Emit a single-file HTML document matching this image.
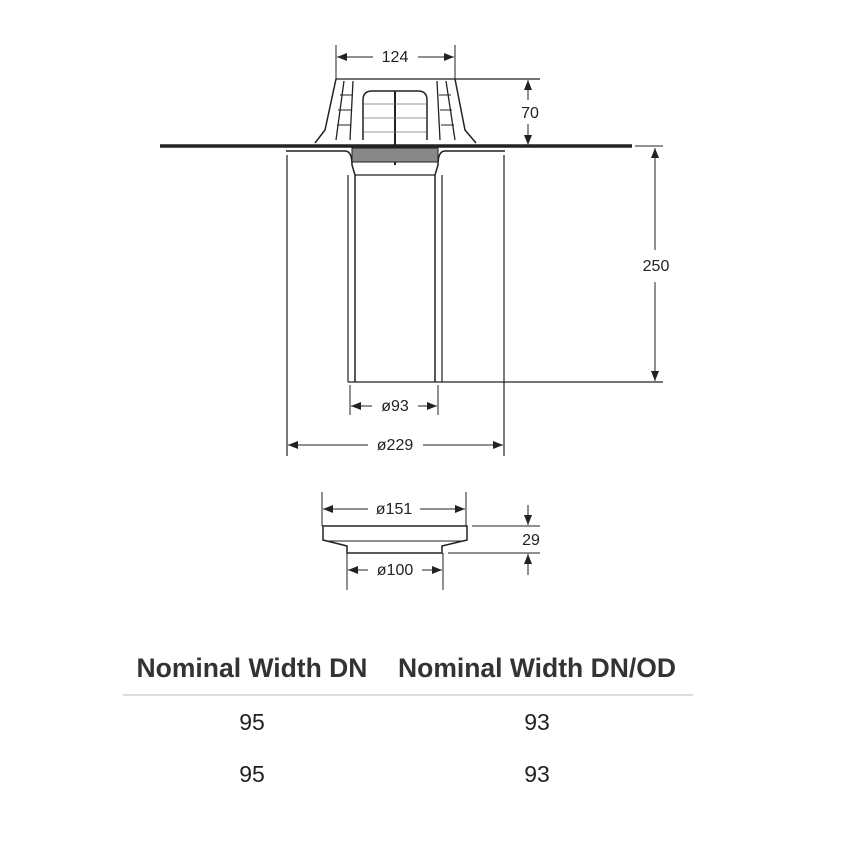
<!DOCTYPE html>
<html><head><meta charset="utf-8"><style>
body{margin:0;background:#fff;width:850px;height:850px;overflow:hidden;position:relative;font-family:"Liberation Sans",sans-serif}
.t{position:absolute;font-size:23px;color:#222;text-align:center;width:340px}
.h{font-size:26.5px;font-weight:bold;color:#333}
</style></head><body>
<svg width="850" height="850" style="position:absolute;left:0;top:0" font-family="Liberation Sans" fill="none" stroke="#222">
<defs><marker id="a" markerWidth="10" markerHeight="8" refX="10" refY="4" orient="auto-start-reverse" markerUnits="userSpaceOnUse"><path d="M0,0L10,4L0,8z" fill="#222" stroke="none"/></marker></defs>
<line x1="160" y1="146" x2="632" y2="146" stroke-width="3.5"/>
<path d="M336,79 L325,130 L315,143 M455,79 L465,130 L476,143" stroke-width="1.5"/>
<line x1="336" y1="79" x2="540" y2="79" stroke-width="1.2"/>
<path d="M344,81 L336,140 M353,81 L350,140 M446,81 L455,140 M437,81 L440,140" stroke-width="1.3"/>
<path d="M340,95h12M338,110h13M337,125h14M439,95h12M440,110h12M441,125h13" stroke-width="1"/>
<path d="M363,140 L363,100 Q363,91 372,91 L418,91 Q427,91 427,100 L427,140" stroke-width="1.5"/>
<line x1="395" y1="91" x2="395" y2="165" stroke-width="2"/>
<path d="M364,104h62M364,118h62M364,132h62" stroke-width="0.8" stroke="#777"/>
<rect x="352" y="148" width="86" height="14" fill="#888" stroke="#222"/>
<path d="M286,151 L345,151 Q352,151 352,165 L355,175 L355,382 M505,151 L445,151 Q438,151 438,165 L435,175 L435,382" stroke-width="1.5"/>
<path d="M348,175 L348,382 M442,175 L442,382 M355,175 L435,175" stroke-width="1.2"/>
<line x1="348" y1="382" x2="663" y2="382" stroke-width="1.2"/>
<line x1="287" y1="155" x2="287" y2="456" stroke-width="1.2"/>
<line x1="504" y1="155" x2="504" y2="456" stroke-width="1.2"/>
<line x1="350" y1="385" x2="350" y2="415"/><line x1="438" y1="385" x2="438" y2="415"/>
<line x1="336" y1="45" x2="336" y2="79"/><line x1="455" y1="45" x2="455" y2="79"/>
<line x1="635" y1="146" x2="663" y2="146"/>
<line x1="337" y1="57" x2="373" y2="57" marker-start="url(#a)"/><line x1="418" y1="57" x2="454" y2="57" marker-end="url(#a)"/>
<line x1="528" y1="80" x2="528" y2="100" marker-start="url(#a)"/><line x1="528" y1="124" x2="528" y2="145" marker-end="url(#a)"/>
<line x1="655" y1="148" x2="655" y2="250" marker-start="url(#a)"/><line x1="655" y1="282" x2="655" y2="381" marker-end="url(#a)"/>
<line x1="351" y1="406" x2="372" y2="406" marker-start="url(#a)"/><line x1="418" y1="406" x2="437" y2="406" marker-end="url(#a)"/>
<line x1="288" y1="445" x2="368" y2="445" marker-start="url(#a)"/><line x1="423" y1="445" x2="503" y2="445" marker-end="url(#a)"/>
<line x1="322" y1="492" x2="322" y2="526"/><line x1="466" y1="492" x2="466" y2="526"/>
<line x1="323" y1="509" x2="368" y2="509" marker-start="url(#a)"/><line x1="420" y1="509" x2="465" y2="509" marker-end="url(#a)"/>
<path d="M323,526 L467,526 L467,540 L442,546 L442,553 L347,553 L347,546 L323,540 Z" stroke-width="1.5"/>
<line x1="325" y1="541" x2="465" y2="541"/>
<line x1="347" y1="553" x2="347" y2="590"/><line x1="443" y1="553" x2="443" y2="590"/>
<line x1="348" y1="570" x2="368" y2="570" marker-start="url(#a)"/><line x1="422" y1="570" x2="442" y2="570" marker-end="url(#a)"/>
<line x1="472" y1="526" x2="540" y2="526"/><line x1="448" y1="553" x2="540" y2="553"/>
<line x1="528" y1="505" x2="528" y2="525" marker-end="url(#a)"/><line x1="528" y1="575" x2="528" y2="554" marker-end="url(#a)"/>
<g fill="#222" stroke="none" font-size="16" text-anchor="middle">
<text x="395" y="62">124</text><text x="530" y="118">70</text><text x="656" y="271">250</text>
<text x="395" y="411">ø93</text><text x="395" y="450">ø229</text><text x="394" y="514">ø151</text>
<text x="395" y="575">ø100</text><text x="531" y="545">29</text></g>
<line x1="123" y1="695" x2="693" y2="695" stroke="#ddd" stroke-width="2"/>
</svg>
<div class="t h" style="left:82px;top:653px">Nominal Width DN</div>
<div class="t h" style="left:367px;top:653px">Nominal Width DN/OD</div>
<div class="t" style="left:82px;top:709px">95</div>
<div class="t" style="left:367px;top:709px">93</div>
<div class="t" style="left:82px;top:761px">95</div>
<div class="t" style="left:367px;top:761px">93</div>
</body></html>
